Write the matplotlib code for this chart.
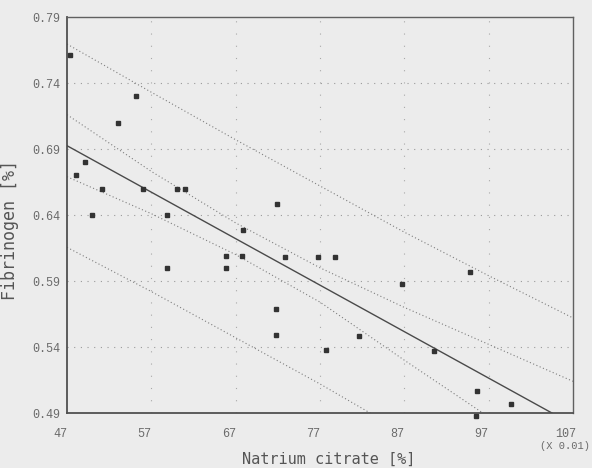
"""
Fibrinogen vs. Natrium citrate: regression with confidence and prediction bands
"""

import matplotlib
matplotlib.use('Agg')
import matplotlib.pyplot as plt
from matplotlib.transforms import ScaledTranslation

# measured points (x in units of 0.01)
citrate = [47.3, 48.1, 49.1, 50.0, 51.1, 53.05, 55.2, 56.05, 58.9, 60.0,
           61.0, 67.9, 71.95, 58.9, 65.9, 65.9, 67.8, 71.8, 71.8, 72.86,
           76.8, 78.8, 86.7, 94.8, 81.67, 77.7, 90.57, 95.6, 99.6, 95.5]
fibrinogen = [0.761, 0.670, 0.680, 0.640, 0.660, 0.710, 0.730, 0.660, 0.640, 0.660,
              0.660, 0.629, 0.648, 0.600, 0.609, 0.600, 0.609, 0.569, 0.549, 0.608,
              0.608, 0.608, 0.588, 0.597, 0.548, 0.538, 0.537, 0.507, 0.497, 0.488]

# fitted line
fit_x = [47, 104.5]
fit_y = [0.6925, 0.49]

# bands read at these x positions
band_x = [47, 57, 67, 77, 87, 97, 107]
conf_upper = [0.716, 0.673, 0.634, 0.600, 0.570, 0.542, 0.514]
conf_lower = [0.669, 0.641, 0.610, 0.574, 0.530, 0.487, 0.446]
pred_upper = [0.7695, 0.733, 0.697, 0.662, 0.627, 0.594, 0.562]
pred_lower = [0.6155, 0.582, 0.547, 0.512, 0.475, 0.438, 0.400]

x_ticks = [47, 57, 67, 77, 87, 97, 107]
y_ticks = [0.49, 0.54, 0.59, 0.64, 0.69, 0.74, 0.79]

bg = '#ececec'
fig = plt.figure(figsize=(5.92, 4.68), dpi=100, facecolor=bg)
ax = fig.add_axes([67 / 592, 1 - 413 / 468, 506 / 592, 396 / 468])
ax.set_facecolor(bg)

# grid
for yt in y_ticks[1:-1]:
    ax.axhline(yt, color='#9a9a9a', linewidth=0.8, linestyle=(0, (1, 5)), zorder=1)
for xt in x_ticks[1:-1]:
    ax.axvline(xt, color='#a8a8a8', linewidth=0.8, linestyle=(0, (1, 10)), zorder=1)

# bands
for band in (conf_upper, conf_lower, pred_upper, pred_lower):
    ax.plot(band_x, band, color='#7e7e7e', linewidth=0.8, linestyle=(0, (1, 2.2)), zorder=2)

# regression line
ax.plot(fit_x, fit_y, color='#4a4a4a', linewidth=1.0, zorder=3)

# points
ax.plot(citrate, fibrinogen, linestyle='none', marker='s', markersize=3.2,
        color='#333333', clip_on=False, zorder=4)

ax.set_xlim(47, 107)
ax.set_ylim(0.49, 0.79)
ax.set_xticks(x_ticks)
ax.set_yticks(y_ticks)
ax.set_xticklabels([str(v) for v in x_ticks])
ax.set_yticklabels([f'{v:.2f}' for v in y_ticks])
ax.tick_params(length=0, labelsize=8.5, labelcolor='#6a6a6a')
ax.tick_params(axis='x', pad=11)
ax.tick_params(axis='y', pad=5)
for lab in ax.get_xticklabels() + ax.get_yticklabels():
    lab.set_fontfamily('Liberation Mono')
shift = ScaledTranslation(-7 / 100, 0, fig.dpi_scale_trans)
for lab in ax.get_xticklabels():
    lab.set_transform(lab.get_transform() + shift)

for side in ('left', 'bottom'):
    ax.spines[side].set_color('#505050')
    ax.spines[side].set_linewidth(1.3)
for side in ('top', 'right'):
    ax.spines[side].set_color('#606060')
    ax.spines[side].set_linewidth(1.0)

ax.text(0.984, -0.083, '(X 0.01)', transform=ax.transAxes, ha='center', va='center',
        fontsize=7.5, color='#6a6a6a', family='Liberation Mono')

ax.set_xlabel('Natrium citrate [%]', fontsize=11, color='#555555', family='DejaVu Sans Mono')
ax.set_ylabel('Fibrinogen [%]', fontsize=12, color='#555555', family='DejaVu Sans Mono')
ax.xaxis.set_label_coords(0.518, -0.098)
ax.yaxis.set_label_coords(-0.094, 0.462)

plt.savefig('out.png', dpi=100, facecolor=bg)
plt.close()
